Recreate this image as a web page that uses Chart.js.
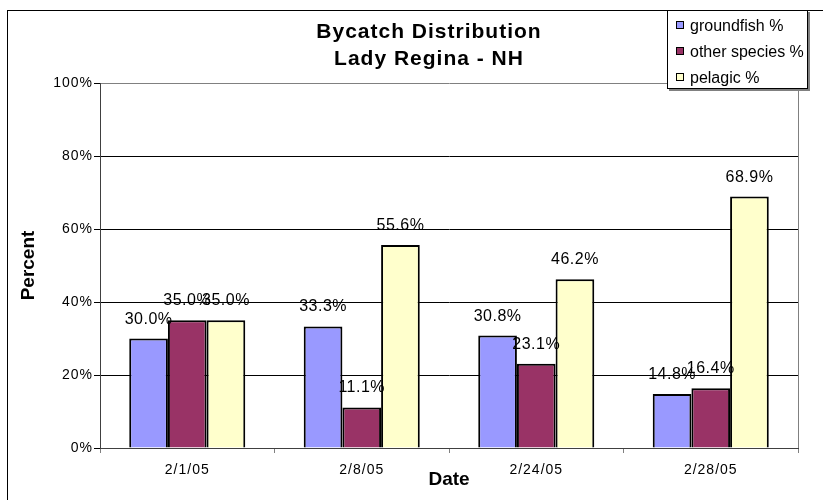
<!DOCTYPE html>
<html>
<head>
<meta charset="utf-8">
<script src="https://cdn.jsdelivr.net/npm/chart.js@4"></script>
<style>
  html, body { margin: 0; padding: 0; background: #fff; }
  #wrap { width: 823px; height: 500px; }
</style>
</head>
<body>
<div id="wrap"><canvas id="chart" width="823" height="500"></canvas></div>
<script>
const dates = ['2/1/05', '2/8/05', '2/24/05', '2/28/05'];
const groundfish = [30.0, 33.3, 30.8, 14.8];
const otherSpecies = [35.0, 11.1, 23.1, 16.4];
const pelagic = [35.0, 55.6, 46.2, 68.9];
const yTicks = [0, 20, 40, 60, 80, 100];

const FONT = "'Liberation Sans', Arial, sans-serif";

// frame, right border of plot, title, value labels, legend box
const decor = {
    id: 'decor',
    beforeDraw(chart) {
        const ctx = chart.ctx;
        ctx.letterSpacing = '0px';
        ctx.save();
        ctx.fillStyle = '#fff';
        ctx.fillRect(0, 0, chart.width, chart.height);
        ctx.strokeStyle = '#000';
        ctx.lineWidth = 1;
        ctx.beginPath();
        ctx.moveTo(7.5, 10);
        ctx.lineTo(7.5, 500);
        ctx.moveTo(7, 10.5);
        ctx.lineTo(823, 10.5);
        ctx.stroke();
        ctx.restore();
    },
    afterDatasetsDraw(chart) {
        const ctx = chart.ctx;
        const a = chart.chartArea;
        ctx.save();
        ctx.strokeStyle = '#808080';
        ctx.beginPath();
        ctx.moveTo(Math.round(a.right) + 0.5, a.top);
        ctx.lineTo(Math.round(a.right) + 0.5, a.bottom);
        ctx.stroke();

        // value labels above bars
        ctx.fillStyle = '#000';
        ctx.font = '16px ' + FONT;
        ctx.letterSpacing = '0.5px';
        ctx.textAlign = 'center';
        ctx.textBaseline = 'alphabetic';
        chart.data.datasets.forEach((ds, i) => {
            chart.getDatasetMeta(i).data.forEach((bar, j) => {
                ctx.fillText(ds.data[j].toFixed(1) + '%', bar.x, bar.y - 15);
            });
        });

        // title
        ctx.font = 'bold 21px ' + FONT;
        ctx.letterSpacing = '1px';
        ctx.fillText('Bycatch Distribution', 429, 38);
        ctx.fillText('Lady Regina - NH', 429, 65);
        ctx.restore();
        // tick labels (z = 1) are drawn after this with wider spacing
        ctx.letterSpacing = '1px';
    },
    afterDraw(chart) {
        const ctx = chart.ctx;
        ctx.letterSpacing = '0px';
        ctx.save();
        ctx.fillStyle = '#808080';
        ctx.fillRect(669, 12, 141, 79);
        ctx.fillStyle = '#fff';
        ctx.fillRect(667, 10, 141, 79);
        ctx.strokeStyle = '#000';
        ctx.strokeRect(667.5, 10.5, 140, 78);
        ctx.font = '16px ' + FONT;
        ctx.textAlign = 'left';
        ctx.textBaseline = 'alphabetic';
        const rows = [25, 51, 77];
        chart.data.datasets.forEach((ds, i) => {
            ctx.fillStyle = ds.backgroundColor;
            ctx.fillRect(676, rows[i] - 4, 8, 8);
            ctx.strokeStyle = '#000';
            ctx.strokeRect(676.5, rows[i] - 3.5, 7, 7);
            ctx.fillStyle = '#000';
            ctx.fillText(ds.label, 690, rows[i] + 6);
        });
        ctx.restore();
    }
};

const barStyle = { borderColor: '#000', borderWidth: 2, categoryPercentage: 0.665, barPercentage: 1.0 };

new Chart(document.getElementById('chart'), {
    type: 'bar',
    data: {
        labels: dates,
        datasets: [
            { label: 'groundfish %', data: groundfish, backgroundColor: '#9999ff', ...barStyle },
            { label: 'other species %', data: otherSpecies, backgroundColor: '#993366', ...barStyle },
            { label: 'pelagic %', data: pelagic, backgroundColor: '#ffffcc', ...barStyle },
        ],
    },
    options: {
        responsive: false,
        animation: false,
        layout: { padding: { left: 0, top: 83, right: 25, bottom: 0 } },
        plugins: { legend: { display: false }, title: { display: false }, tooltip: { enabled: false } },
        scales: {
            x: {
                afterFit: (s) => { s.height = 52; },
                grid: { drawOnChartArea: false, drawTicks: true, tickLength: 5, color: '#808080', offset: true },
                border: { color: '#404040' },
                ticks: { z: 1, font: { size: 14, family: FONT }, color: '#000', padding: 9 },
                title: { display: true, text: 'Date', color: '#000', font: { size: 19, weight: 'bold', family: FONT }, padding: { top: 0, bottom: 9 } },
            },
            y: {
                min: 0,
                max: 100,
                afterFit: (s) => { s.width = 100; },
                afterBuildTicks: (s) => { s.ticks = yTicks.map((v) => ({ value: v })); },
                grid: {
                    color: (c) => (c.tick && c.tick.value === 100 ? '#808080' : '#000'),
                    tickColor: '#000',
                    tickLength: 6,
                },
                border: { color: '#404040' },
                ticks: { z: 1, font: { size: 14, family: FONT }, color: '#000', padding: 1, callback: (v) => v + '%' },
                title: { display: true, text: 'Percent', color: '#000', font: { size: 19, weight: 'bold', family: FONT }, padding: { top: 17, bottom: 0 } },
            },
        },
    },
    plugins: [decor],
});
</script>
</body>
</html>
